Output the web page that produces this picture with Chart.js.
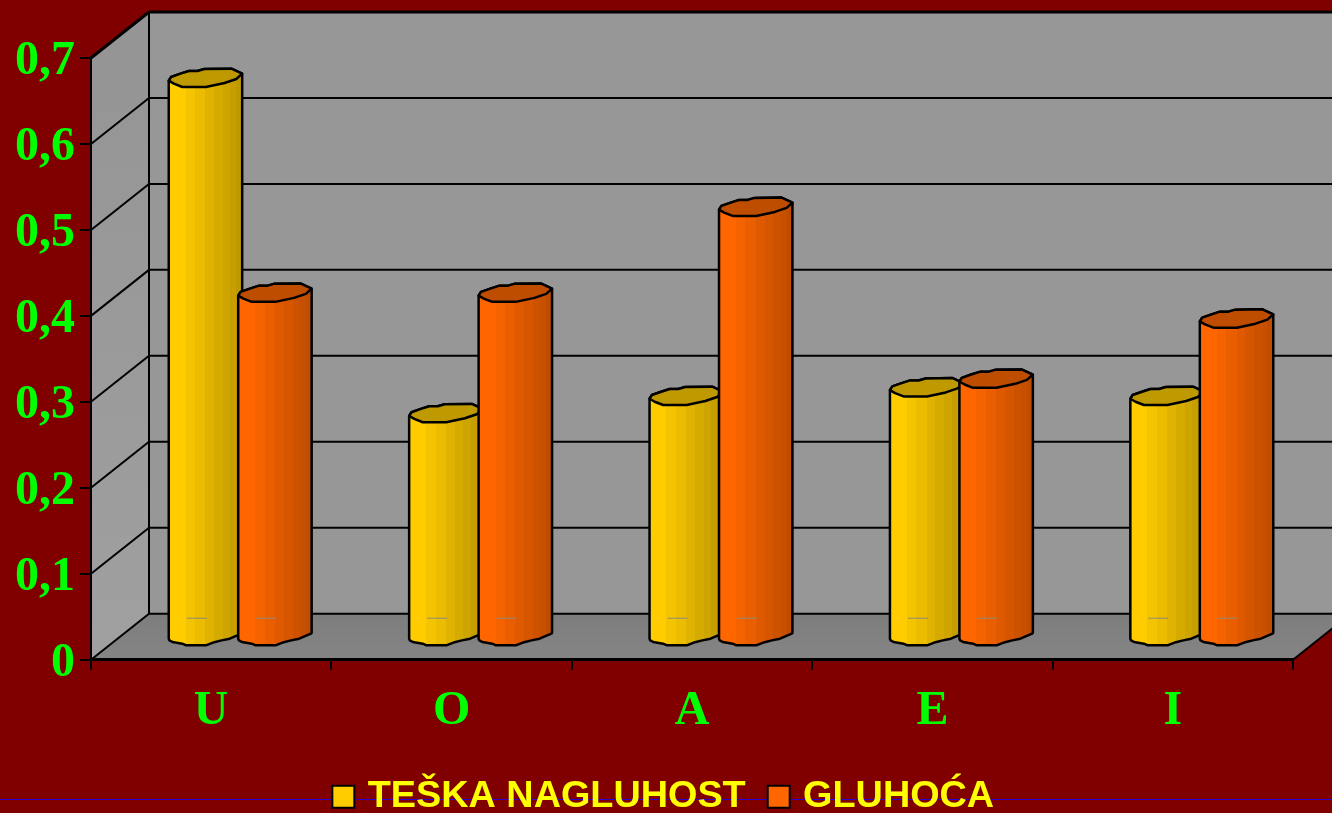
<!DOCTYPE html>
<html>
<head>
<meta charset="utf-8">
<style>html,body{margin:0;padding:0;background:#800000}canvas{display:block}</style>
<script src="https://cdn.jsdelivr.net/npm/chart.js@4"></script>
</head>
<body>
<canvas id="c" width="1332" height="813"></canvas>
<script>
const categories = ['U', 'O', 'A', 'E', 'I'];
const seriesNames = ['TEŠKA NAGLUHOST', 'GLUHOĆA'];
const teskaNagluhost = [0.65, 0.26, 0.28, 0.29, 0.28];
const gluhoca = [0.40, 0.40, 0.50, 0.30, 0.37];
const yTickLabels = ['0', '0,1', '0,2', '0,3', '0,4', '0,5', '0,6', '0,7'];

const DEPTH_X = 58, DEPTH_Y = 46;
const MAROON = '#800000', GREEN = '#00ff00', YELLOW = '#ffff00';
const YELLOW_RGB = [255, 204, 0], ORANGE_RGB = [255, 102, 0];
const BAND_ENDS = [.23, .36, .5, .62, .74, .84, .92, 1];
const BAND_SHADE = [1, .96, .92, .875, .84, .805, .775, .75];
// Hand-faceted outline of the column ends: [fraction of half width, pixels from the end's centre]
const CAP_UPPER = [[-1, 2.7], [-.935, -1], [-.68, -4.3], [-.45, -7], [-.22, -7], [-.03, -9], [.705, -9.3], [1, -4.3]];
const CAP_LOWER = [[1, -4.3], [.84, 1], [.52, 5], [.01, 9], [-.63, 9], [-.86, 5.7], [-1, 2.7]];
const FOOT_LOWER = [[-1, 3], [-.98, 4.7], [-.9, 6.3], [-.63, 8], [-.54, 9.5], [.03, 9.5], [.24, 6.5], [.44, 4.7], [.66, 3], [.98, -2], [1, -3]];
const shade = (rgb, f) => `rgb(${rgb.map(v => Math.round(v * f)).join(',')})`;

function line(ctx, x1, y1, x2, y2, w) {
  ctx.beginPath(); ctx.moveTo(x1, y1); ctx.lineTo(x2, y2);
  ctx.lineWidth = w; ctx.strokeStyle = '#000'; ctx.stroke();
}
function poly(ctx, pts, fill) {
  ctx.beginPath(); pts.forEach((p, i) => i ? ctx.lineTo(p[0], p[1]) : ctx.moveTo(p[0], p[1]));
  ctx.closePath(); ctx.fillStyle = fill; ctx.fill();
}

const wallsPlugin = {
  id: 'walls',
  beforeDraw(chart) {
    const { ctx, chartArea: a, scales: { y } } = chart;
    const L = a.left, R = a.right, T = a.top, B = a.bottom;
    ctx.save();
    ctx.fillStyle = MAROON; ctx.fillRect(0, 0, chart.width, chart.height);
    // stray rule behind the legend
    ctx.fillStyle = '#2a00d0'; ctx.fillRect(0, 799, chart.width, 1);
    // back wall
    poly(ctx, [[L + DEPTH_X, T - DEPTH_Y], [R + DEPTH_X, T - DEPTH_Y], [R + DEPTH_X, B - DEPTH_Y], [L + DEPTH_X, B - DEPTH_Y]], '#979797');
    // side wall
    const sg = ctx.createLinearGradient(0, T, 0, B);
    sg.addColorStop(0, '#959595'); sg.addColorStop(1, '#a0a0a0');
    poly(ctx, [[L, T], [L + DEPTH_X, T - DEPTH_Y], [L + DEPTH_X, B - DEPTH_Y], [L, B]], sg);
    // floor
    const fg = ctx.createLinearGradient(0, B - DEPTH_Y, 0, B);
    fg.addColorStop(0, '#7d7d7d'); fg.addColorStop(1, '#858585');
    poly(ctx, [[L, B], [L + DEPTH_X, B - DEPTH_Y], [R + DEPTH_X, B - DEPTH_Y], [R, B]], fg);
    // value gridlines, taken from the value scale
    y.ticks.forEach(t => {
      const py = y.getPixelForValue(t.value);
      const top = t.value === y.max;
      line(ctx, L, py, L + DEPTH_X, py - DEPTH_Y, top ? 3 : 2);
      line(ctx, L + DEPTH_X, py - DEPTH_Y, R + DEPTH_X, py - DEPTH_Y, top ? 3 : 2);
    });
    line(ctx, L + DEPTH_X, T - DEPTH_Y, L + DEPTH_X, B - DEPTH_Y, 2);
    line(ctx, R, B, R + DEPTH_X, B - DEPTH_Y, 2);
    ctx.restore();
  }
};

function drawCylinder(ctx, el, rgb) {
  const cx = el.x + DEPTH_X / 2, rx = el.width / 2;
  const top = el.y - DEPTH_Y / 2, bot = el.base - DEPTH_Y / 2;
  const left = cx - rx, right = cx + rx;
  const at = (p, cy) => [cx + p[0] * rx, cy + p[1]];
  const trace = pts => pts.forEach(p => ctx.lineTo(p[0], p[1]));
  const g = ctx.createLinearGradient(left, 0, right, 0);
  let start = 0;
  BAND_ENDS.forEach((end, i) => {
    const c = shade(rgb, BAND_SHADE[i]);
    g.addColorStop(start, c); g.addColorStop(end, c); start = end;
  });
  ctx.save();
  ctx.lineJoin = 'round';
  ctx.lineWidth = 2.5; ctx.strokeStyle = '#000';
  // body
  ctx.beginPath();
  const s = at(CAP_UPPER[0], top);
  ctx.moveTo(s[0], s[1]);
  trace(FOOT_LOWER.map(p => at(p, bot)));
  trace(CAP_UPPER.slice().reverse().map(p => at(p, top)));
  ctx.closePath();
  ctx.fillStyle = g; ctx.fill(); ctx.stroke();
  // small grey floor mark seen through the column
  ctx.fillStyle = '#8c8c7c';
  ctx.fillRect(left + 18, bot - 18, 20, 1);
  // top cap
  ctx.beginPath();
  ctx.moveTo(s[0], s[1]);
  trace(CAP_UPPER.map(p => at(p, top)));
  trace(CAP_LOWER.map(p => at(p, top)));
  ctx.closePath();
  ctx.fillStyle = shade(rgb, .75); ctx.fill(); ctx.stroke();
  ctx.restore();
}

const cylindersPlugin = {
  id: 'cylinders',
  beforeDatasetsDraw(chart) {
    const rgbs = [YELLOW_RGB, ORANGE_RGB];
    chart.data.datasets.forEach((d, i) => {
      const meta = chart.getDatasetMeta(i);
      meta.data.forEach(el => drawCylinder(chart.ctx, el, rgbs[i]));
    });
    return false;
  }
};

new Chart(document.getElementById('c'), {
  type: 'bar',
  data: {
    labels: categories,
    datasets: [
      { label: seriesNames[0], data: teskaNagluhost, backgroundColor: shade(YELLOW_RGB, 1), borderColor: '#000', borderWidth: 2 },
      { label: seriesNames[1], data: gluhoca, backgroundColor: shade(ORANGE_RGB, 1), borderColor: '#000', borderWidth: 2 }
    ]
  },
  plugins: [wallsPlugin, cylindersPlugin],
  options: {
    responsive: false,
    animation: false,
    categoryPercentage: 0.578,
    barPercentage: 1.057,
    layout: { padding: { top: 58, right: 0, left: 0, bottom: -12.75 } },
    plugins: {
      title: { display: false },
      tooltip: { enabled: false },
      legend: {
        position: 'bottom',
        labels: {
          usePointStyle: true, pointStyle: 'rect',
          boxWidth: 11, boxHeight: 22, padding: 27.5,
          color: YELLOW,
          font: { family: '"Liberation Sans"', weight: 'bold', size: 37.8 }
        }
      }
    },
    scales: {
      x: {
        type: 'category',
        afterFit(s) { s.height = 90.75; },
        border: { display: true, color: '#000', width: 3 },
        grid: { drawOnChartArea: false, drawTicks: true, tickLength: 10, color: '#000', lineWidth: 2 },
        ticks: { color: GREEN, padding: 13, maxRotation: 0, font: { family: '"Liberation Serif"', weight: 'bold', size: 48 } }
      },
      y: {
        type: 'linear', min: 0, max: 0.7,
        afterFit(s) { s.width = 91; },
        border: { display: true, color: '#000', width: 2 },
        grid: { drawOnChartArea: false, drawTicks: true, tickLength: 11, color: '#000', lineWidth: 2 },
        ticks: {
          stepSize: 0.1, color: GREEN, padding: 5, labelOffset: 4,
          font: { family: '"Liberation Serif"', weight: 'bold', size: 48 },
          callback: (v, i) => yTickLabels[i]
        }
      },
      // empty strip that keeps room for the floor's depth on the right
      depthGutter: {
        type: 'linear', position: 'right', min: 0, max: 0.7,
        afterFit(s) { s.width = 39; },
        border: { display: false },
        grid: { display: false },
        ticks: { display: false }
      }
    }
  }
});
</script>
</body>
</html>
